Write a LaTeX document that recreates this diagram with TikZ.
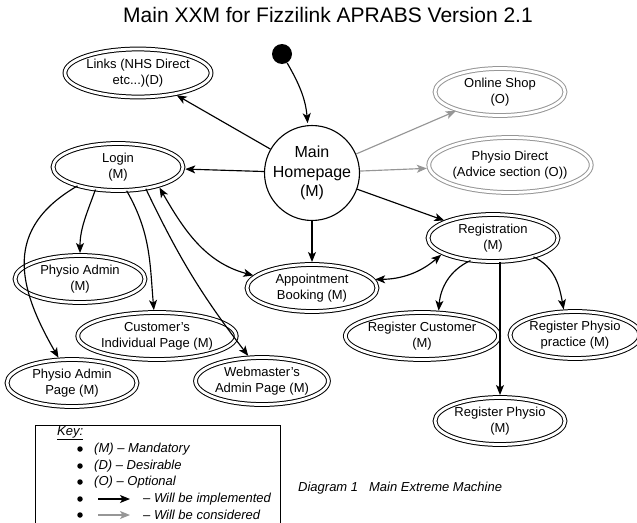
\documentclass[tikz,border=0pt]{standalone}
\usepackage{fontspec}
\setmainfont{Liberation Sans}
\usetikzlibrary{shapes.geometric,arrows.meta,calc}
\definecolor{optgray}{RGB}{150,150,150}

\begin{document}
\begin{tikzpicture}[x=1pt,y=-1pt,
  lbl/.style={font=\fontsize{13}{16}\selectfont, align=center},
  usecase/.style={ellipse, draw, double, double distance=2.8pt, line width=1pt,
    minimum width=130pt, minimum height=47pt, inner sep=0pt, lbl},
  optcase/.style={usecase, draw=optgray},
  tip/.tip={Stealth[length=10pt,width=8pt,inset=2.5pt]},
  link/.style={line width=1.15pt, -tip, shorten >=2pt},
  optlink/.style={link, draw=optgray},
  twoway/.style={line width=1.15pt, tip-tip, shorten >=2pt, shorten <=2pt},
  keytext/.style={font=\fontsize{13}{16}\selectfont\itshape, anchor=west, inner sep=0pt},
  keydot/.style={circle, fill, minimum size=5.5pt, inner sep=0pt}
]
\useasboundingbox (0,0) rectangle (637,522);

% title
\node[font=\fontsize{21}{25}\selectfont, anchor=base] (title) at (328,22)
  {Main XXM for Fizzilink APRABS Version 2.1};

% start state and home page
\node[circle, fill, minimum size=20pt, inner sep=0pt] (start) at (282,54) {};
\node[circle, draw, line width=1.1pt, minimum size=90pt, inner sep=0pt,
  font=\fontsize{16}{19.5}\selectfont, align=center] (main) at (312,173)
  {Main\\Homepage\\(M)};

% pages
\node[usecase, minimum width=132pt, minimum height=48pt] (links) at (138,73) {Links (NHS Direct\\etc...)(D)};
\node[usecase] (login) at (118,167) {Login\\(M)};
\node[optcase] (shop) at (500,92) {Online Shop\\(O)};
\node[optcase, minimum width=143pt, minimum height=55pt] (pdirect) at (510,165) {Physio Direct\\(Advice section (O))};
\node[usecase] (padmin) at (80,279) {Physio Admin\\(M)};
\node[usecase] (cust) at (157,336) {Customer's\\Individual Page (M)};
\node[usecase] (papage) at (72,383) {Physio Admin\\Page (M)};
\node[usecase] (webm) at (262,381) {Webmaster's\\Admin Page (M)};
\node[usecase] (appt) at (312,288) {Appointment\\Booking (M)};
\node[usecase] (reg) at (493,238) {Registration\\(M)};
\node[usecase] (rcust) at (422,336) {Register Customer\\(M)};
\node[usecase] (rprac) at (575,335) {Register Physio\\practice (M)};
\node[usecase] (rphys) at (500,421) {Register Physio\\(M)};

% transitions
\draw[link] (start) to[out=-60,in=95] (main);
\draw[link] (main) -- (links);
\draw[link] (main) -- (login);
\draw[optlink] (main) -- (shop);
\draw[optlink] (main) -- (pdirect);
\draw[link] (main) -- (reg);
\draw[link] (main) -- (appt);
\draw[twoway] (login.-25) to[out=-60,in=165] (appt.168);
\draw[twoway] (appt.8) to[bend right=20] (reg.197);
\draw[link] (login.-135) to[out=-110,in=90] (padmin.north);
\draw[link] (login.-70) to[out=-60,in=95] (cust.97);
\draw[link] (login.-155) to[out=-150,in=120,looseness=1.25] (papage.118);
\draw[link] (login.-38) to[bend right=6] (webm.118);
\draw[link] (reg.-135) to[out=-155,in=85] (rcust.55);
\draw[link] (reg.south -| rphys.north) -- (rphys.north);
\draw[link] (reg.-25) to[out=-25,in=100] (rprac.115);

% key
\draw[line width=1pt] (35,524) |- (280,425) -- (280,524);
\node[keytext] (keyhead) at (57,433) {\underline{Key:}};
\node[keydot] (d1) at (80,449) {};
\node[keydot] (d2) at (80,466) {};
\node[keydot] (d3) at (80,482) {};
\node[keydot] (d4) at (80,499) {};
\node[keydot] (d5) at (80,515) {};
\node[keytext] (k1) at (94,449) {(M) -- Mandatory};
\node[keytext] (k2) at (94,466) {(D) -- Desirable};
\node[keytext] (k3) at (94,482) {(O) -- Optional};
\coordinate (ka) at (98,499);
\coordinate (kb) at (130,499);
\coordinate (kc) at (98,515);
\coordinate (kd) at (130,515);
\draw[line width=1.15pt, -tip] (ka) -- (kb);
\draw[line width=1.15pt, -tip, draw=optgray] (kc) -- (kd);
\node[keytext] (k4) at (143,499) {-- Will be implemented};
\node[keytext] (k5) at (143,515) {-- Will be considered};

% caption
\node[keytext] (caption) at (298,488) {Diagram 1\hspace{11pt}Main Extreme Machine};
\end{tikzpicture}
\end{document}
